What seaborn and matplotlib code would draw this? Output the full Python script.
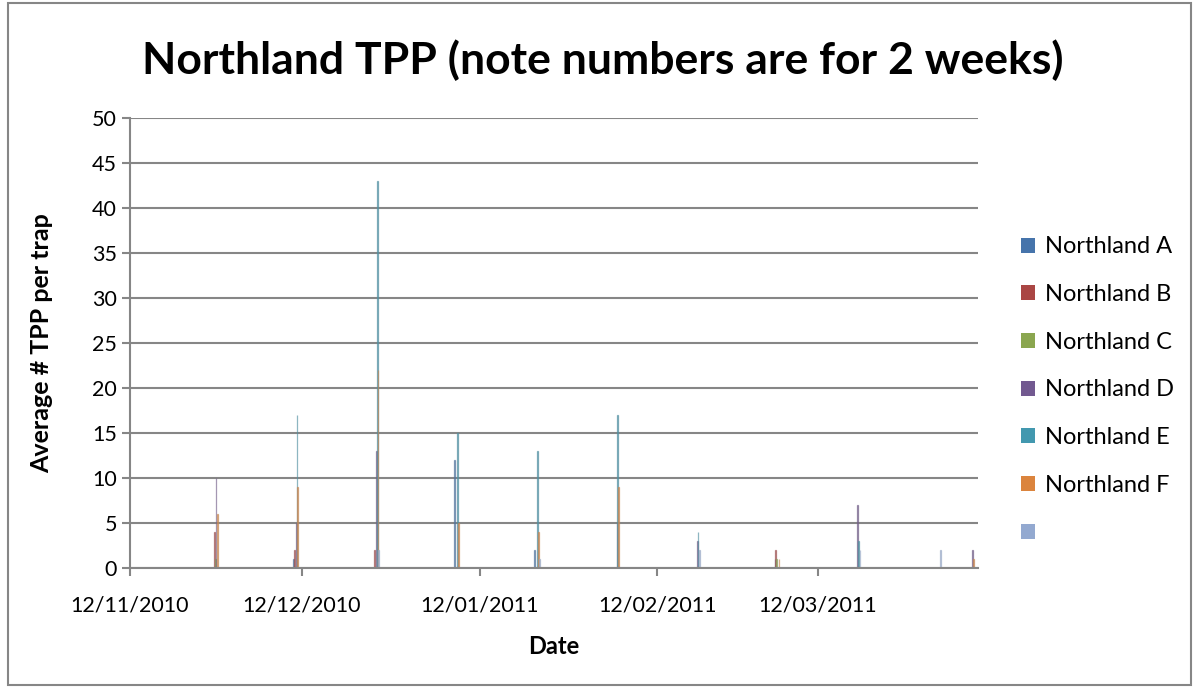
import numpy as np
import pandas as pd
import seaborn as sns
import matplotlib
matplotlib.use("Agg")
import matplotlib.pyplot as plt
import matplotlib.dates as mdates
from matplotlib.patches import Patch, Rectangle

sns.set_theme(style="white")
plt.rcParams["font.family"] = ["Lato", "DejaVu Sans"]
plt.rcParams["text.color"] = "black"

# --- data ---
dates = ["2010-11-27", "2010-12-11", "2010-12-25", "2011-01-08", "2011-01-22",
         "2011-02-05", "2011-02-19", "2011-03-05", "2011-03-19", "2011-04-02",
         "2011-04-08"]
nan = np.nan
northland_a = [nan, 1, nan, 12, 2, nan, nan, 1, nan, nan, nan]
northland_b = [4, 2, 2, nan, nan, nan, nan, 2, nan, nan, nan]
northland_c = [1, nan, nan, nan, nan, nan, nan, 1, nan, nan, nan]
northland_d = [10, 5, 13, nan, nan, 5, 3, nan, 7, nan, 2]
northland_e = [nan, 17, 43, 15, 13, 17, 4, nan, 3, nan, nan]
northland_f = [6, 9, 22, 5, 4, 9, nan, 1, nan, nan, 1]
series_7 = [nan, nan, 2, nan, 1, nan, 2, nan, 2, 2, nan]

series_names = ["Northland A", "Northland B", "Northland C", "Northland D",
                "Northland E", "Northland F", "Series 7"]
legend_labels = ["Northland A", "Northland B", "Northland C", "Northland D",
                 "Northland E", "Northland F", ""]
colors = ["#4674AB", "#AA4644", "#8AA64F", "#725990", "#4298AF", "#DB843D", "#93A9D0"]

values = [northland_a, northland_b, northland_c, northland_d,
          northland_e, northland_f, series_7]
date_nums = mdates.date2num(pd.to_datetime(dates))

rows = []
for name, vals in zip(series_names, values):
    for d, v in zip(date_nums, vals):
        rows.append({"date": d, "series": name, "tpp": v})
df = pd.DataFrame(rows).dropna()

fig = plt.figure(figsize=(11.97, 6.88), dpi=100)
ax = fig.add_axes([130 / 1197, 1 - 568 / 688, (978 - 130) / 1197, (568 - 118) / 688])

sns.barplot(
    data=df,
    x="date",
    y="tpp",
    hue="series",
    hue_order=series_names,
    palette=colors,
    native_scale=True,
    width=0.16,
    dodge=True,
    legend=False,
    ax=ax,
)
# hairline bars: give each an outline in its own colour so it stays visible
for bar in ax.patches:
    bar.set_alpha(0.65)
    bar.set_edgecolor(bar.get_facecolor())
    bar.set_linewidth(0.9)

ax.set_xlim(mdates.date2num(pd.Timestamp("2010-11-12")),
            mdates.date2num(pd.Timestamp("2011-04-09")))
ax.set_ylim(0, 50)
ax.set_yticks(range(0, 51, 5))
ax.xaxis.set_major_locator(mdates.MonthLocator(bymonthday=12))
ax.xaxis.set_major_formatter(mdates.DateFormatter("%d/%m/%Y"))

ax.yaxis.grid(True, color="#868686", linewidth=1.5)
ax.set_axisbelow(True)
for side in ["top", "right"]:
    ax.spines[side].set_visible(False)
for side in ["left", "bottom"]:
    ax.spines[side].set_color("#868686")
    ax.spines[side].set_linewidth(1.5)
ax.tick_params(axis="both", which="major", length=6, width=1.5, color="#868686",
               labelsize=15.5, labelcolor="black", direction="out",
               left=True, bottom=True)
ax.tick_params(axis="x", pad=14)

ax.set_xlabel("Date", fontsize=17, fontweight="bold", labelpad=14, color="black")
ax.set_ylabel("Average # TPP per trap", fontsize=18, fontweight="bold", labelpad=28,
              color="black")

fig.text(603 / 1197, 1 - 60 / 688, "Northland TPP (note numbers are for 2 weeks)",
         ha="center", va="center", fontsize=32, fontweight="bold", color="black")

handles = [Patch(facecolor=c, edgecolor="none") for c in colors]
fig.legend(handles, legend_labels, loc="center left",
           bbox_to_anchor=(1000 / 1197, 1 - 390 / 688), frameon=False,
           fontsize=17, handlelength=0.6, handleheight=0.6, handletextpad=0.4,
           labelspacing=1.13)

fig.patches.append(Rectangle((8 / 1197, 3 / 688), 1183 / 1197, 682 / 688,
                             transform=fig.transFigure, fill=False,
                             edgecolor="#868686", linewidth=1.5))

fig.savefig("out.png", dpi=100)
